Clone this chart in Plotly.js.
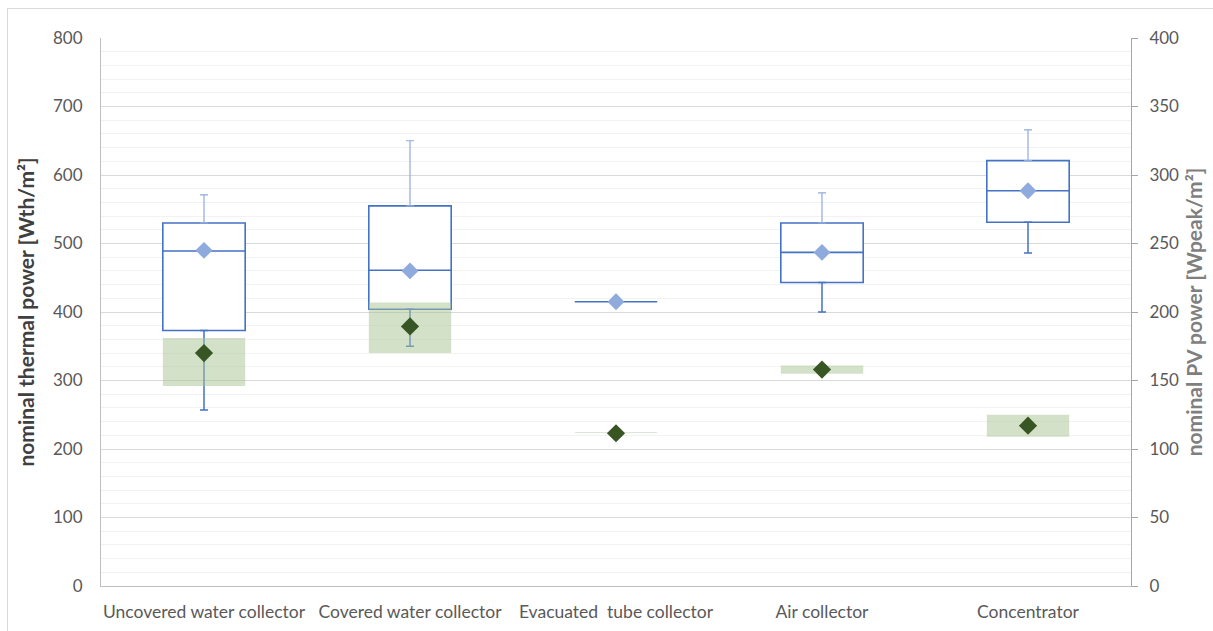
<!DOCTYPE html>
<html>
<head>
<meta charset="utf-8">
<script src="https://cdn.plot.ly/plotly-3.0.1.min.js"></script>
<style>
  html, body { margin: 0; padding: 0; background: #ffffff; overflow: hidden; }
  #frame { position: absolute; left: 7px; top: 8px; width: 1240px; height: 660px; border: 1px solid #d9d9d9; box-sizing: border-box; }
  #chart { position: absolute; left: 0; top: 0; width: 1213px; height: 631px; }
</style>
</head>
<body>
<div id="frame"></div>
<div id="chart"></div>
<script>
// Categories
const categories = ["Uncovered water collector", "Covered water collector", "Evacuated  tube collector", "Air collector", "Concentrator"];

// Thermal power [Wth/m²] (left axis)
const thermalMin    = [257, 350, 415, 400, 486];
const thermalQ1     = [373, 404, 415, 443, 531];
const thermalMedian = [489, 461, 415, 487, 577];
const thermalQ3     = [530, 555, 415, 530, 621];
const thermalMax    = [571, 650, 415, 574, 666];
const thermalMean   = [490, 460, 415, 487, 577];

// PV power [Wpeak/m²] (right axis)
const pvLow  = [146, 170, 111.7, 155, 109];
const pvHigh = [181, 207, 112.3, 161, 125];
const pvMean = [170, 189.5, 111.5, 158, 117];

const font = "Lato, 'Open Sans', sans-serif";
const textColor = "#595959";

const upperLen = thermalMax.map((v, i) => v - thermalQ3[i]);
const lowerLen = thermalQ1.map((v, i) => v - thermalMin[i]);
const pvSpan = pvHigh.map((v, i) => v - pvLow[i]);

const traces = [
  {
    type: "box", x: categories,
    q1: thermalQ1, median: thermalMedian, q3: thermalQ3,
    lowerfence: thermalQ1, upperfence: thermalQ3,
    width: 0.4, fillcolor: "#ffffff",
    line: { color: "#4472C4", width: 1.6 },
    whiskerwidth: 0, boxpoints: false,
    yaxis: "y", showlegend: false, hoverinfo: "skip"
  },
  {
    type: "scatter", mode: "markers", x: categories, y: thermalQ3,
    marker: { size: 1, color: "rgba(0,0,0,0)" },
    error_y: { type: "data", symmetric: false, array: upperLen, arrayminus: upperLen.map(() => 0),
               color: "#8FAADC", thickness: 1.2, width: 4 },
    yaxis: "y", showlegend: false, hoverinfo: "skip"
  },
  {
    type: "scatter", mode: "markers", x: categories, y: thermalQ1,
    marker: { size: 1, color: "rgba(0,0,0,0)" },
    error_y: { type: "data", symmetric: false, array: lowerLen.map(() => 0), arrayminus: lowerLen,
               color: "#4472C4", thickness: 1.5, width: 4 },
    yaxis: "y", showlegend: false, hoverinfo: "skip"
  },
  {
    type: "scatter", mode: "markers", x: categories, y: thermalMean,
    marker: { symbol: "diamond", size: 13, color: "#8FAADC" },
    yaxis: "y", showlegend: false, hoverinfo: "skip"
  },
  {
    type: "bar", x: categories, y: pvSpan, base: pvLow, width: 0.4,
    marker: { color: "rgba(169,196,148,0.5)", line: { width: 0 } },
    yaxis: "y2", showlegend: false, hoverinfo: "skip"
  },
  {
    type: "scatter", mode: "markers", x: categories, y: pvMean,
    marker: { symbol: "diamond", size: 14, color: "#375623" },
    yaxis: "y2", showlegend: false, hoverinfo: "skip"
  }
];

const layout = {
  width: 1213, height: 631,
  margin: { l: 101, r: 82, t: 38, b: 45 },
  paper_bgcolor: "rgba(0,0,0,0)", plot_bgcolor: "rgba(0,0,0,0)",
  font: { family: font, color: textColor, size: 15 },
  boxmode: "overlay", barmode: "overlay",
  showlegend: false,
  xaxis: {
    type: "category", range: [-0.5, 4.5],
    showgrid: false, zeroline: false,
    showline: true, linecolor: "#bfbfbf", linewidth: 1,
    ticks: "", ticklabelstandoff: 10,
    tickfont: { family: font, size: 17.5, color: textColor },
    fixedrange: true
  },
  yaxis: {
    range: [0, 800], dtick: 100, tick0: 0,
    showgrid: true, gridcolor: "#d9d9d9", gridwidth: 1,
    minor: { dtick: 20, showgrid: true, gridcolor: "#f2f2f2", gridwidth: 1 },
    zeroline: false, showline: true, linecolor: "#bfbfbf", linewidth: 1,
    ticks: "", ticklen: 0, ticklabelstandoff: 14,
    tickfont: { family: font, size: 17, color: textColor },
    title: { text: "nominal thermal power [Wth/m²]", font: { family: font, size: 21, color: "#404040", weight: "bold" }, standoff: 12 },
    fixedrange: true
  },
  yaxis2: {
    range: [0, 400], dtick: 50, tick0: 0,
    overlaying: "y", side: "right",
    showgrid: false, zeroline: false,
    showline: true, linecolor: "#a6a6a6", linewidth: 1,
    ticks: "outside", ticklen: 6, tickcolor: "#a6a6a6", ticklabelstandoff: 8,
    tickfont: { family: font, size: 17, color: textColor },
    title: { text: "nominal PV power [Wpeak/m²]", font: { family: font, size: 21, color: "#7f7f7f", weight: "bold" }, standoff: 9 },
    fixedrange: true
  }
};

Plotly.newPlot("chart", traces, layout, { displayModeBar: false, staticPlot: true });
</script>
</body>
</html>
